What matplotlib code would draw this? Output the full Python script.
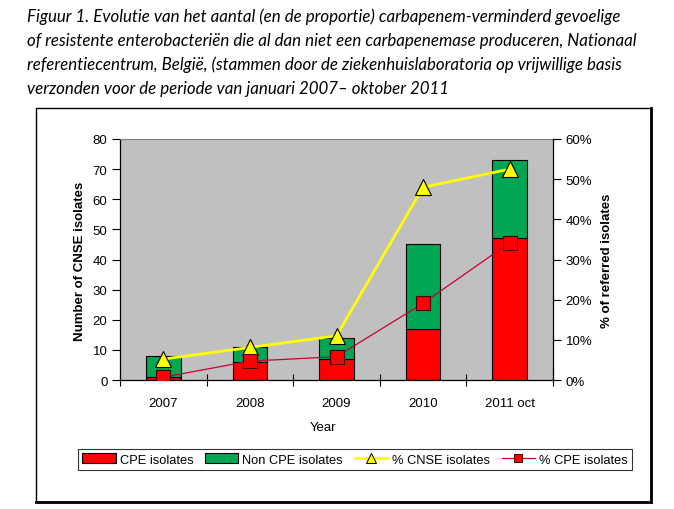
import matplotlib
matplotlib.use("Agg")
import matplotlib.pyplot as plt
from matplotlib.patches import Rectangle, Patch
from matplotlib.lines import Line2D
from matplotlib.ticker import FuncFormatter, FixedLocator

# ---- data ----
categories = ["2007", "2008", "2009", "2010", "2011 oct"]
cpe_isolates = [1, 6, 7, 17, 47]
non_cpe_isolates = [7, 5, 7, 28, 26]
pct_cnse = [5.2, 8.1, 11.0, 48.0, 52.5]
pct_cpe = [0.7, 4.7, 5.8, 19.1, 34.2]
title_lines = [
    "Figuur 1. Evolutie van het aantal (en de proportie) carbapenem-verminderd gevoelige",
    "of resistente enterobacteriën die al dan niet een carbapenemase produceren, Nationaal",
    "referentiecentrum, België, (stammen door de ziekenhuislaboratoria op vrijwillige basis",
    "verzonden voor de periode van januari 2007\u2013 oktober 2011",
]

W, H = 674, 510
fig = plt.figure(figsize=(W / 100, H / 100), dpi=100)
fig.patch.set_facecolor("white")

def fx(px):
    return px / W

def fy(py):
    return 1 - py / H

# ---- title ----
title_font = dict(family=["Lato", "DejaVu Sans"], style="italic", color="black")
fs = 11
t = fig.text(fx(27), fy(16), title_lines[1], fontsize=fs, va="center", ha="left", **title_font)
fig.canvas.draw()
wpx = t.get_window_extent(fig.canvas.get_renderer()).width
fs = fs * (634 - 27) / wpx
t.remove()
for line, yc in zip(title_lines, [17, 41, 65, 89]):
    fig.text(fx(27), fy(yc), line, fontsize=fs, va="center", ha="left", **title_font)

# ---- outer chart box ----
fig.add_artist(Rectangle((fx(36), fy(503)), fx(651) - fx(36), fy(109) - fy(503),
                         transform=fig.transFigure, fill=False, lw=1.0, ec="black"))
fig.add_artist(Line2D([fx(651), fx(651)], [fy(503), fy(109)], transform=fig.transFigure,
                      lw=2.0, color="black"))
fig.add_artist(Line2D([fx(36), fx(651)], [fy(503), fy(503)], transform=fig.transFigure,
                      lw=2.0, color="black"))

# ---- axes ----
left, right, top, bottom = 120, 553, 140, 381
ax = fig.add_axes([fx(left), fy(bottom), fx(right) - fx(left), fy(top) - fy(bottom)])
ax.set_facecolor("#C0C0C0")
x = list(range(len(categories)))
red = "#FF0000"
green = "#00A651"
bw = 0.40
ax.bar(x, cpe_isolates, width=bw, color=red, edgecolor="black", linewidth=0.8, zorder=2)
ax.bar(x, non_cpe_isolates, width=bw, bottom=cpe_isolates, color=green,
       edgecolor="black", linewidth=0.8, zorder=2)
ax.set_xlim(-0.5, len(categories) - 0.5)
ax.set_ylim(0, 80)
ax.set_yticks(range(0, 81, 10))
ax.set_xticks(x)
ax.set_xticklabels(categories)
ax.xaxis.set_minor_locator(FixedLocator([i - 0.5 for i in range(len(categories) + 1)]))
ax.tick_params(axis="x", which="major", length=0, pad=12)
ax.tick_params(axis="x", which="minor", length=8, direction="inout", width=0.8)
ax.tick_params(axis="y", length=6, width=0.8, direction="out", pad=3)
for lab in ax.get_xticklabels() + ax.get_yticklabels():
    lab.set_fontfamily("Liberation Sans")
    lab.set_fontsize(9.5)
for s in ["left", "bottom"]:
    ax.spines[s].set_color("black")
    ax.spines[s].set_linewidth(0.9)
ax.spines["top"].set_color("#808080")
ax.spines["top"].set_linewidth(0.8)
ax.spines["right"].set_visible(False)

ax2 = ax.twinx()
ax2.set_ylim(0, 60)
ax2.set_yticks(range(0, 61, 10))
ax2.yaxis.set_major_formatter(FuncFormatter(lambda v, p: f"{int(v)}%"))
ax2.tick_params(axis="y", length=6, width=0.8, direction="out", pad=3)
for lab in ax2.get_yticklabels():
    lab.set_fontfamily("Liberation Sans")
    lab.set_fontsize(9.5)
ax2.spines["right"].set_color("black")
ax2.spines["right"].set_linewidth(0.9)
for s in ["left", "top", "bottom"]:
    ax2.spines[s].set_visible(False)

line_red = "#CC0033"
ax2.plot(x, pct_cnse, color="#FFFF00", lw=2.0, marker="^", ms=11,
         markerfacecolor="#FFFF00", markeredgecolor="black", markeredgewidth=0.8, zorder=3)
ax2.plot(x, pct_cpe, color=line_red, lw=0.9, marker="s", ms=10,
         markerfacecolor=red, markeredgecolor="#400000", markeredgewidth=0.8, zorder=4)

# ---- axis titles ----
lab_font = dict(family="Liberation Sans", weight="bold", size=9.5)
fig.text(fx(80), fy(261), "Number of CNSE isolates", rotation=90, ha="center", va="center", **lab_font)
fig.text(fx(607), fy(261), "% of referred isolates", rotation=90, ha="center", va="center", **lab_font)
fig.text(fx(323), fy(428), "Year", ha="center", va="center", family="Liberation Sans", size=9.5)

# ---- legend ----
handles = [
    Patch(facecolor=red, edgecolor="black", linewidth=0.8),
    Patch(facecolor=green, edgecolor="black", linewidth=0.8),
    Line2D([], [], color="#FFFF00", lw=2.0, marker="^", ms=7, markerfacecolor="#FFFF00",
           markeredgecolor="black", markeredgewidth=0.7),
    Line2D([], [], color=line_red, lw=0.9, marker="s", ms=6, markerfacecolor=red,
           markeredgecolor="#400000", markeredgewidth=0.7),
]
labels = ["CPE isolates", "Non CPE isolates", "% CNSE isolates", "% CPE isolates"]
leg = fig.legend(handles, labels, loc="center", bbox_to_anchor=(fx(355), fy(460.5)),
                 ncol=4, frameon=True, fancybox=False, edgecolor="black",
                 prop=dict(family="Liberation Sans", size=9.3), handlelength=2.6,
                 handleheight=0.8, handletextpad=0.3, columnspacing=0.9,
                 borderpad=0.35, borderaxespad=0)
leg.get_frame().set_linewidth(0.8)

fig.savefig("out.png", dpi=100)
